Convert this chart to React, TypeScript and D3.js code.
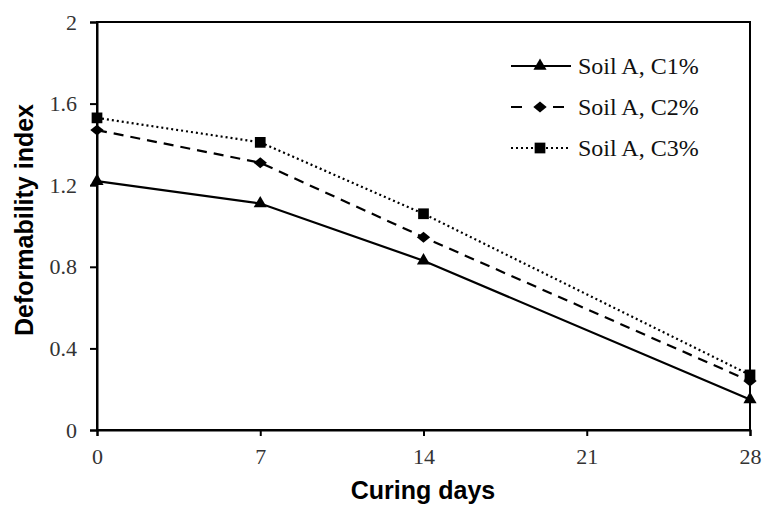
import React, { useRef, useEffect } from "react";
import * as d3 from "d3";

const days = [0, 7, 14, 28];
const c1 = [1.22, 1.11, 0.83, 0.15];
const c2 = [1.47, 1.31, 0.945, 0.24];
const c3 = [1.53, 1.41, 1.06, 0.27];
const seriesNames = ["Soil A, C1%", "Soil A, C2%", "Soil A, C3%"];
const xTicks = [0, 7, 14, 21, 28];
const yTicks = [0, 0.4, 0.8, 1.2, 1.6, 2];

// wide diamond like the Excel marker
const wideDiamond = {
  draw(ctx: any, size: number) {
    const w = Math.sqrt(size) * 0.8;
    const h = Math.sqrt(size) * 0.65;
    ctx.moveTo(0, -h);
    ctx.lineTo(w, 0);
    ctx.lineTo(0, h);
    ctx.lineTo(-w, 0);
    ctx.closePath();
  },
};

export default function App() {
  const ref = useRef<SVGSVGElement>(null);
  useEffect(() => {
    const width = 763;
    const height = 509;
    const m = { left: 97, right: 13, top: 22, bottom: 79 };
    const svg = d3.select(ref.current);
    svg.selectAll("*").remove();
    svg.attr("width", width).attr("height", height);

    const x = d3.scaleLinear().domain([0, 28]).range([m.left, width - m.right]);
    const y = d3.scaleLinear().domain([0, 2]).range([height - m.bottom, m.top]);

    const serif = "'Liberation Serif', 'Times New Roman', serif";
    const sans = "'Liberation Sans', Arial, sans-serif";

    // frame
    svg
      .append("rect")
      .attr("x", x(0))
      .attr("y", y(2))
      .attr("width", x(28) - x(0))
      .attr("height", y(0) - y(2))
      .attr("fill", "none")
      .attr("stroke", "#000")
      .attr("stroke-width", 2);

    const yAxis = svg
      .append("g")
      .attr("transform", `translate(${x(0)},0)`)
      .call(d3.axisLeft(y).tickValues(yTicks).tickSize(7).tickPadding(13).tickFormat((d) => String(d)));
    const xAxis = svg
      .append("g")
      .attr("transform", `translate(0,${y(0)})`)
      .call(d3.axisBottom(x).tickValues(xTicks).tickSize(6).tickPadding(12).tickFormat((d) => String(d)));
    [yAxis, xAxis].forEach((g) => {
      g.select(".domain").attr("stroke-width", 2);
      g.selectAll(".tick line").attr("stroke-width", 2);
      g.selectAll(".tick text")
        .attr("font-family", serif)
        .attr("font-size", 22)
        .attr("fill", "#333");
    });

    const styles = [
      { data: c1, dash: null, legDash: null, shape: d3.symbolTriangle, size: 75 },
      { data: c2, dash: "10,7", legDash: "11,31", shape: wideDiamond, size: 70 },
      { data: c3, dash: "2,3", legDash: "2,3", shape: d3.symbolSquare, size: 115 },
    ];

    const line = d3
      .line<number>()
      .x((_, i) => x(days[i]))
      .y((d) => y(d));

    styles.forEach((s, k) => {
      const p = svg
        .append("path")
        .datum(s.data)
        .attr("d", line)
        .attr("fill", "none")
        .attr("stroke", "#000")
        .attr("stroke-width", 2.2);
      if (s.dash) p.attr("stroke-dasharray", s.dash);
      svg
        .append("g")
        .selectAll("path")
        .data(s.data)
        .join("path")
        .attr("d", d3.symbol().type(s.shape as any).size(s.size))
        .attr("transform", (d, i) => `translate(${x(days[i])},${y(d)})`)
        .attr("fill", "#000");

      // legend
      const ly = 66 + k * 41;
      const lg = svg.append("g");
      const ll = lg
        .append("line")
        .attr("x1", 511)
        .attr("x2", 571)
        .attr("y1", ly)
        .attr("y2", ly)
        .attr("stroke", "#000")
        .attr("stroke-width", 2.2);
      if (s.legDash) ll.attr("stroke-dasharray", s.legDash);
      lg.append("path")
        .attr("d", d3.symbol().type(s.shape as any).size(s.size))
        .attr("transform", `translate(540,${ly})`)
        .attr("fill", "#000");
      lg.append("text")
        .attr("x", 578)
        .attr("y", ly)
        .attr("dy", "0.33em")
        .attr("font-family", serif)
        .attr("font-size", 24)
        .attr("fill", "#111")
        .text(seriesNames[k]);
    });

    svg
      .append("text")
      .attr("x", 423)
      .attr("y", 499)
      .attr("text-anchor", "middle")
      .attr("font-family", sans)
      .attr("font-weight", "bold")
      .attr("font-size", 25)
      .text("Curing days");
    svg
      .append("text")
      .attr("transform", `translate(33,220) rotate(-90)`)
      .attr("text-anchor", "middle")
      .attr("font-family", sans)
      .attr("font-weight", "bold")
      .attr("font-size", 25)
      .text("Deformability index");
  }, []);

  return (
    <div style={{ position: "absolute", left: 0, top: 0, background: "#fff" }}>
      <svg ref={ref} />
    </div>
  );
}
